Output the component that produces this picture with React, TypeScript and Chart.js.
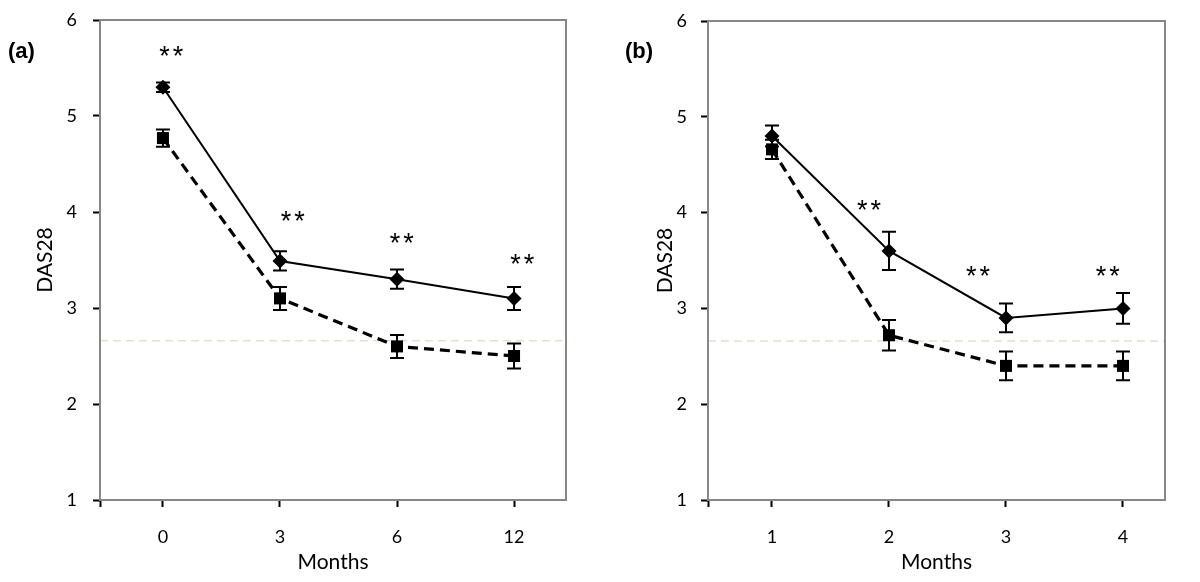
import React, { useEffect, useRef } from 'react';
import { Chart, registerables } from 'chart.js';

Chart.register(...registerables);

// ---- data ----
const monthsA = ['0', '3', '6', '12'];
const solidA = [5.3, 3.49, 3.3, 3.1];
const solidErrA = [0.05, 0.1, 0.1, 0.12];
const dashedA = [4.77, 3.1, 2.6, 2.5];
const dashedErrA = [0.09, 0.12, 0.12, 0.13];
const starsAX = [0.07, 1.11, 2.04, 3.07];
const starsAY = [5.65, 3.93, 3.7, 3.48];

const monthsB = ['1', '2', '3', '4'];
const solidB = [4.8, 3.6, 2.9, 3.0];
const solidErrB = [0.11, 0.2, 0.15, 0.16];
const dashedB = [4.66, 2.72, 2.4, 2.4];
const dashedErrB = [0.1, 0.16, 0.15, 0.15];
const starsBX = [0.83, 1.76, 2.87];
const starsBY = [4.05, 3.36, 3.36];

const yTicks = [1, 2, 3, 4, 5, 6];
const REF_LINE = 2.66;
const STAR_TEXT = '**';

type Panel = {
  labels: string[];
  solid: number[];
  solidErr: number[];
  dashed: number[];
  dashedErr: number[];
  starsX: number[];
  starsY: number[];
  xMin: number;
  xMax: number;
  axisWidth: number;
  padTop: number;
  padRight: number;
  yTickPad: number;
  yTitlePad: number;
};

const panelA: Panel = {
  labels: monthsA, solid: solidA, solidErr: solidErrA, dashed: dashedA, dashedErr: dashedErrA,
  starsX: starsAX, starsY: starsAY,
  xMin: -0.538, xMax: 3.444, axisWidth: 100, padTop: 20, padRight: 34, yTickPad: 16, yTitlePad: 34,
};
const panelB: Panel = {
  labels: monthsB, solid: solidB, solidErr: solidErrB, dashed: dashedB, dashedErr: dashedErrB,
  starsX: starsBX, starsY: starsBY,
  xMin: -0.547, xMax: 3.359, axisWidth: 108, padTop: 21, padRight: 35, yTickPad: 14, yTitlePad: 54,
};

const FONT = 'Lato, "Noto Sans", sans-serif';

function makePlugin(p: Panel) {
  return {
    id: 'decor',
    beforeDatasetsDraw(chart: any) {
      const { ctx, chartArea, scales } = chart;
      const xs = scales.x;
      const ys = scales.y;
      ctx.save();
      // reference line
      ctx.strokeStyle = '#e4e1cd';
      ctx.lineWidth = 1.5;
      ctx.setLineDash([8, 5]);
      const ry = ys.getPixelForValue(REF_LINE);
      ctx.beginPath();
      ctx.moveTo(chartArea.left, ry);
      ctx.lineTo(chartArea.right, ry);
      ctx.stroke();
      ctx.setLineDash([]);
      // box
      ctx.strokeStyle = '#878787';
      ctx.lineWidth = 2;
      ctx.strokeRect(chartArea.left, chartArea.top, chartArea.right - chartArea.left, chartArea.bottom - chartArea.top);
      // error bars
      ctx.strokeStyle = '#000';
      ctx.lineWidth = 2;
      const drawErr = (vals: number[], errs: number[]) => {
        vals.forEach((v, i) => {
          const x = xs.getPixelForValue(i);
          const t = ys.getPixelForValue(v + errs[i]);
          const b = ys.getPixelForValue(v - errs[i]);
          ctx.beginPath();
          ctx.moveTo(x, t); ctx.lineTo(x, b);
          ctx.moveTo(x - 7, t); ctx.lineTo(x + 7, t);
          ctx.moveTo(x - 7, b); ctx.lineTo(x + 7, b);
          ctx.stroke();
        });
      };
      drawErr(p.solid, p.solidErr);
      drawErr(p.dashed, p.dashedErr);
      ctx.restore();
    },
    afterDatasetsDraw(chart: any) {
      const { ctx, scales } = chart;
      ctx.save();
      ctx.fillStyle = '#000';
      ctx.font = '27px "Liberation Sans", sans-serif';
      try { (ctx as any).letterSpacing = '3px'; } catch (e) { /* ignore */ }
      ctx.textAlign = 'center';
      ctx.textBaseline = 'middle';
      p.starsX.forEach((sx, i) => {
        const x = scales.x.getPixelForValue(sx);
        const y = scales.y.getPixelForValue(p.starsY[i]);
        ctx.fillText(STAR_TEXT, x + 1.5, y + 4);
      });
      ctx.restore();
    },
  };
}

function PanelChart({ p, left, label }: { p: Panel; left: number; label: string }) {
  const ref = useRef<HTMLCanvasElement>(null);
  useEffect(() => {
    const canvas = ref.current!;
    const chart = new Chart(canvas, {
      type: 'line',
      data: {
        datasets: [
          {
            data: p.dashed.map((v, i) => ({ x: i, y: v })),
            borderColor: '#000',
            borderWidth: 3.2,
            borderDash: [10, 6],
            pointStyle: 'rect',
            pointRadius: 8.5,
            pointBackgroundColor: '#000',
            pointBorderColor: '#000',
            pointBorderWidth: 0,
            tension: 0,
          },
          {
            data: p.solid.map((v, i) => ({ x: i, y: v })),
            borderColor: '#000',
            borderWidth: 2,
            pointStyle: 'rectRot',
            pointRadius: 7.5,
            pointBackgroundColor: '#000',
            pointBorderColor: '#000',
            pointBorderWidth: 0,
            tension: 0,
          },
        ],
      },
      options: {
        animation: false,
        responsive: false,
        maintainAspectRatio: false,
        devicePixelRatio: 1,
        layout: { padding: { left: 0, right: p.padRight, top: p.padTop, bottom: 0 } },
        plugins: { legend: { display: false }, tooltip: { enabled: false } },
        scales: {
          x: {
            type: 'linear',
            min: p.xMin,
            max: p.xMax,
            afterBuildTicks: (s: any) => {
              s.ticks = [p.xMin, ...p.labels.map((_, i) => i)].map((v) => ({ value: v }));
            },
            afterFit: (s: any) => { s.height = 82; s.paddingLeft = 0; s.paddingRight = 0; },
            ticks: {
              autoSkip: false,
              maxRotation: 0,
              padding: 19,
              color: '#000',
              font: { family: FONT, size: 18 },
              callback: (v: any) => {
                const i = Number(v);
                return Number.isInteger(i) && p.labels[i] !== undefined ? p.labels[i] : '';
              },
            },
            grid: { display: true, drawOnChartArea: false, drawTicks: true, tickLength: 7, tickColor: '#000', tickWidth: 2 },
            border: { display: false },
            title: { display: true, text: 'Months', color: '#000', font: { family: FONT, size: 21 }, padding: { top: 0, bottom: 7 } },
          },
          y: {
            min: 1,
            max: 6,
            afterBuildTicks: (s: any) => { s.ticks = yTicks.map((v) => ({ value: v })); },
            afterFit: (s: any) => { s.width = p.axisWidth; s.paddingTop = 0; s.paddingBottom = 0; },
            ticks: { padding: p.yTickPad, color: '#000', font: { family: FONT, size: 18 } },
            grid: { display: true, drawOnChartArea: false, drawTicks: true, tickLength: 7, tickColor: '#000', tickWidth: 2 },
            border: { display: false },
            title: { display: true, text: 'DAS28', color: '#000', font: { family: FONT, size: 21 }, padding: { top: p.yTitlePad - 1, bottom: 0 } },
          },
        },
      },
      plugins: [makePlugin(p)],
    } as any);
    return () => chart.destroy();
  }, [p]);
  return (
    <div style={{ position: 'absolute', left, top: 0, width: 600, height: 582 }}>
      <canvas ref={ref} width={600} height={582} style={{ width: 600, height: 582, display: 'block' }} />
      <div style={{ position: 'absolute', left: label === '(a)' ? 8 : 25, top: 38, font: 'bold 22px "Liberation Sans", Arial, sans-serif', color: '#000' }}>{label}</div>
    </div>
  );
}

export default function App() {
  return (
    <div style={{ position: 'absolute', left: 0, top: 0, width: 1200, height: 582, background: '#fff', overflow: 'hidden' }}>
      <PanelChart p={panelA} left={0} label="(a)" />
      <PanelChart p={panelB} left={600} label="(b)" />
    </div>
  );
}
